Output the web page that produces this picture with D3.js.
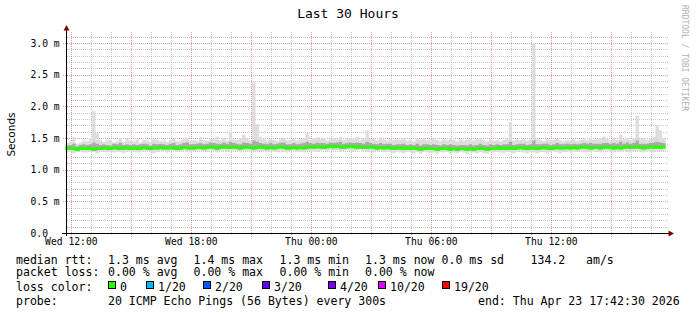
<!DOCTYPE html>
<html><head><meta charset="utf-8">
<script src="https://cdn.jsdelivr.net/npm/d3@7"></script>
<style>
body{margin:0;background:#fff;}
svg{display:block;}
text{font-family:"DejaVu Sans Mono",monospace;fill:#000;}
</style></head><body>
<svg id="c" width="697" height="315"></svg>
<script>
// ---------------- data ----------------
const title = "Last 30 Hours";
const startTime = "2026-04-22T11:42:30";
const endTime = "2026-04-23T17:42:30";
const stepMinutes = 10;
// RTT values in units of 0.01 ms (one value per 10-minute bin)
const medianRtt = [
133,134,133,132,134,133,134,133,132,133, 133,134,134,133,135,134,133,134,134,133,
134,133,134,135,134,133,134,134,135,134, 134,135,134,133,134,135,135,134,134,135,
135,134,135,136,135,134,135,136,135,135, 136,135,134,135,136,135,134,135,136,135,
134,135,134,135,136,135,134,134,135,134, 135,134,135,136,135,136,136,135,136,137,
136,137,136,135,136,137,136,135,136,135, 135,136,135,134,135,134,135,134,133,134,
134,133,134,133,134,133,132,133,134,133, 133,132,133,134,133,132,133,132,133,133,
132,133,132,133,134,133,132,133,133,134, 133,134,133,134,133,134,135,134,133,134,
134,133,134,135,134,133,134,135,134,134, 135,134,135,134,135,136,135,134,135,135,
134,135,136,135,134,135,134,135,136,135, 135,136,135,134,135,136,135,136,135,136];
const minRtt = [
127,129,126,128,129,127,127,129,128,126, 129,128,127,129,127,129,128,126,129,128,
129,127,127,129,130,128,126,128,129,129, 127,129,130,128,129,130,129,127,129,130,
129,130,128,131,129,127,130,130,128,130, 130,129,127,130,129,130,127,129,130,129,
127,130,129,128,130,128,127,129,130,128, 129,127,130,129,130,128,130,131,129,131,
130,131,128,130,131,130,128,130,131,129, 128,130,127,129,130,127,129,128,126,129,
127,126,129,128,126,128,125,128,127,126, 127,125,128,127,128,125,127,126,128,127,
125,128,127,126,128,126,125,128,127,128, 127,126,128,129,126,128,129,127,126,128,
127,126,129,128,126,128,129,127,126,128, 129,127,129,128,130,128,127,129,130,128,
127,129,130,128,127,129,128,130,128,127, 129,130,128,127,130,129,127,130,129,130];
const maxRtt = [
142,144,151,141,143,146,145,150,193,158, 147,144,146,147,143,145,150,144,149,146,
145,148,143,147,146,144,149,147,145,146, 144,147,149,145,146,148,150,146,147,145,
151,147,146,149,148,152,147,150,146,160, 148,147,150,155,149,146,238,172,152,148,
146,149,147,145,148,150,146,147,149,146, 148,150,158,147,149,151,148,150,146,149,
150,148,152,147,149,150,148,151,147,149, 162,148,150,147,151,148,146,149,147,148,
147,150,146,148,145,149,147,150,146,148, 150,147,145,148,146,150,147,145,148,146,
147,149,146,148,150,147,145,148,146,147, 145,147,148,175,146,148,147,149,146,148,
300,149,147,145,148,146,147,149,146,145, 147,146,148,145,147,149,146,150,147,148,
150,152,148,146,150,147,155,148,150,147, 149,185,148,150,147,149,152,170,162,150];
const lowerQuartile = [
131,132,131,130,132,131,131,131,130,131, 131,132,131,131,133,132,131,132,132,131,
132,131,131,133,132,131,132,132,133,132, 132,133,132,131,132,133,132,132,132,133,
133,132,133,134,133,131,133,134,133,133, 134,133,132,133,134,133,132,133,134,133,
132,133,132,133,134,133,132,132,133,132, 133,132,133,134,133,134,133,133,134,135,
134,135,133,133,134,135,134,133,134,133, 133,134,133,132,133,132,133,132,131,132,
132,131,132,131,132,131,130,131,132,131, 131,130,131,132,131,130,131,130,131,131,
130,131,130,131,132,131,130,131,131,132, 131,132,131,132,131,132,133,132,131,132,
132,131,132,133,132,131,132,133,132,132, 133,132,133,132,133,134,133,132,133,133,
132,133,134,133,132,133,132,133,134,133, 133,134,133,132,133,134,133,134,133,134];
const upperQuartile = [
138,139,141,137,139,140,139,140,143,141, 139,140,139,138,141,140,142,139,140,139,
140,139,140,141,140,138,141,140,141,140, 139,141,142,139,140,142,143,140,140,141,
142,140,141,143,142,141,141,143,141,144, 142,141,140,143,142,141,146,144,142,141,
140,142,140,141,142,143,140,140,142,140, 141,142,144,142,141,143,142,142,141,143,
142,143,144,141,142,143,142,143,142,141, 144,142,141,140,142,140,141,141,139,140,
140,141,139,140,139,141,138,140,140,139, 140,139,138,140,139,140,139,138,139,139,
138,140,138,139,141,139,138,140,139,140, 139,140,140,144,139,140,141,141,139,140,
146,140,140,141,141,139,140,142,140,140, 141,140,141,140,141,142,141,142,141,141,
141,142,142,141,142,141,144,141,143,141, 142,146,141,141,141,142,143,144,143,142];

const yTickValues = [0, 0.5, 1.0, 1.5, 2.0, 2.5, 3.0];           // ms
const yTickLabels = ["0.0", "0.5 m", "1.0 m", "1.5 m", "2.0 m", "2.5 m", "3.0 m"];
const xTickTimes = ["2026-04-22T12:00:00","2026-04-22T18:00:00","2026-04-23T00:00:00","2026-04-23T06:00:00","2026-04-23T12:00:00"];
const xTickLabels = ["Wed 12:00","Wed 18:00","Thu 00:00","Thu 06:00","Thu 12:00"];
const yAxisTitle = "Seconds";

const legendRtt = ["median rtt:","1.3 ms avg","1.4 ms max","1.3 ms min","1.3 ms now","0.0 ms sd","134.2","am/s"];
const legendLoss = ["packet loss:","0.00 % avg","0.00 % max","0.00 % min","0.00 % now"];
const lossLabels = ["0","1/20","2/20","3/20","4/20","10/20","19/20"];
const lossColors = ["#26ff00","#00b8ff","#0059ff","#5e00ff","#7e00ff","#dd00ff","#ff0000"];
const probeText = ["probe:","20 ICMP Echo Pings (56 Bytes) every 300s","end: Thu Apr 23 17:42:30 2026"];
const watermark = "RRDTOOL / TOBI OETIKER";

// ---------------- chart ----------------
const svg = d3.select("#c");
const parse = d3.utcParse("%Y-%m-%dT%H:%M:%S");
const t0 = parse(startTime), t1 = parse(endTime);
const x = d3.scaleUtc().domain([t0, t1]).range([65.5, 665.5]);
const y = d3.scaleLinear().domain([0, 3]).range([233, 43]);
const plotTop = 32, axisY = 233.5, axisX = 66.5, plotRight = 668;

svg.append("rect").attr("width",697).attr("height",315).attr("fill","#fff");

// grid
const g = svg.append("g");
const minorCol = "rgba(143,143,143,0.5)", majorCol = "rgba(222,81,81,0.55)";
d3.range(1, 32).forEach(k => {
  const v = k / 10, major = k % 5 === 0;
  const yy = Math.round(y(v)) + 0.5;
  g.append("line").attr("x1", major ? 63 : 67).attr("x2", plotRight)
    .attr("y1", yy).attr("y2", yy)
    .attr("stroke", major ? majorCol : minorCol).attr("stroke-dasharray","1,1");
});
d3.utcHour.range(d3.utcHour.ceil(t0), t1).forEach(h => {
  const major = h.getUTCHours() % 3 === 0;
  const xx = Math.round(x(h)) + 0.5;
  g.append("line").attr("x1", xx).attr("x2", xx)
    .attr("y1", plotTop).attr("y2", major ? 237 : 235)
    .attr("stroke", major ? majorCol : minorCol).attr("stroke-dasharray","1,1");
});

// data rows
const rows = medianRtt.map((m, i) => ({
  t: new Date(t0.getTime() + i * stepMinutes * 60000),
  m: m / 100, lo: minRtt[i] / 100, hi: maxRtt[i] / 100,
  q1: lowerQuartile[i] / 100, q3: upperQuartile[i] / 100
}));
const rowsExt = rows.concat([Object.assign({}, rows[rows.length - 1], {t: t1})]);

const band = (a, b) => d3.area().curve(d3.curveStepAfter)
  .x(d => x(d.t)).y0(d => y(d[a])).y1(d => y(d[b]));

svg.append("path").datum(rowsExt).attr("d", band("lo","hi")).attr("fill","#dddddd");
svg.append("path").datum(rowsExt).attr("d", band("q1","q3")).attr("fill","#aaaaaa");

svg.append("path").datum(rowsExt)
  .attr("d", d3.line().curve(d3.curveStepAfter).x(d => x(d.t)).y(d => y(d.m)))
  .attr("fill","none").attr("stroke", lossColors[0]).attr("stroke-width", 2.6);

// axes
const ax = svg.append("g");
ax.append("line").attr("x1", axisX).attr("x2", axisX).attr("y1", 236).attr("y2", 29)
  .attr("stroke","#000");
ax.append("line").attr("x1", 62).attr("x2", 670).attr("y1", axisY).attr("y2", axisY)
  .attr("stroke","#000");
ax.append("path").attr("d", `M${axisX-3},30.5 L${axisX+3},30.5 L${axisX},25 Z`).attr("fill","#7f0000");
ax.append("path").attr("d", `M668.5,${axisY-3} L668.5,${axisY+3} L674,${axisY} Z`).attr("fill","#7f0000");

// y tick labels
ax.selectAll("text.yl").data(yTickValues).enter().append("text")
  .attr("x", 30.5).attr("y", v => y(v) + 3.5)
  .style("font-size","9.7px").text((v, i) => yTickLabels[i]);

// x tick labels
ax.selectAll("text.xl").data(xTickTimes).enter().append("text")
  .attr("x", s => x(parse(s))).attr("y", 245).attr("text-anchor","middle")
  .style("font-size","9.7px").text((s, i) => xTickLabels[i]);

// y axis title
svg.append("text").attr("transform","translate(15,134.5) rotate(-90)")
  .attr("text-anchor","middle").style("font-family","'DejaVu Sans',sans-serif")
  .style("font-size","10.5px").text(yAxisTitle);

// title
svg.append("text").attr("x", 348).attr("y", 18).attr("text-anchor","middle")
  .style("font-size","13px").text(title);

// watermark
svg.append("text").attr("transform","translate(682,5) rotate(90)")
  .style("font-size","8px").style("fill","#b0b0b0").text(watermark);

// legend
const lg = svg.append("g").style("font-size","11.55px").attr("xml:space","preserve");
const rttX = [16,108,193.5,279.5,365,441.5,530.5,586];
legendRtt.forEach((s, i) => lg.append("text").attr("x", rttX[i]).attr("y", 263.5).text(s));
const lossX = [16,108,193.5,279.5,365];
legendLoss.forEach((s, i) => lg.append("text").attr("x", lossX[i]).attr("y", 276).text(s));
lg.append("text").attr("x", 16).attr("y", 291).text("loss color:");
const boxX = [108,146,203,262,328,378,442];
lossLabels.forEach((s, i) => {
  lg.append("rect").attr("x", boxX[i] + 0.5).attr("y", 281.5).attr("width", 7).attr("height", 7)
    .attr("fill", lossColors[i]).attr("stroke","#000");
  lg.append("text").attr("x", boxX[i] + 12).attr("y", 291).text(s);
});
const probeX = [16,108,478];
probeText.forEach((s, i) => lg.append("text").attr("x", probeX[i]).attr("y", 305).text(s));
</script>
</body></html>
